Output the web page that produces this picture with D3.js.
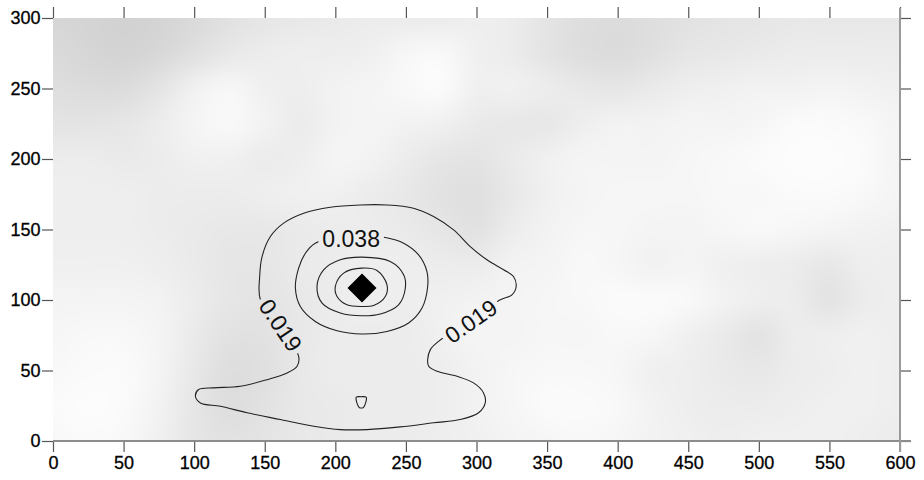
<!DOCTYPE html>
<html><head><meta charset="utf-8">
<script src="https://cdn.jsdelivr.net/npm/d3@7"></script>
<style>body{margin:0;background:#fff} svg{display:block}</style>
</head><body><svg id="c" width="924" height="480"></svg>
<script>
// ---- data ----
const xTickValues = [0, 50, 100, 150, 200, 250, 300, 350, 400, 450, 500, 550, 600];
const yTickValues = [0, 50, 100, 150, 200, 250, 300];

// background shading grid (gray level 0-255), columns x = 0..600 step 25, rows y = 300..0 step 25
const gridX = [0,25,50,75,100,125,150,175,200,225,250,275,300,325,350,375,400,425,450,475,500,525,550,575,600];
const gridY = [300,275,250,225,200,175,150,125,100,75,50,25,0];
const shade = [
  [214,212,210,212,218,225,230,232,234,236,236,236,238,236,228,222,220,222,226,228,230,232,232,232,232],
  [218,214,212,216,224,232,236,238,238,240,246,248,240,236,228,222,220,224,230,232,234,236,236,236,236],
  [222,220,220,228,240,246,240,238,242,244,248,250,240,240,236,232,230,234,238,240,242,242,244,242,240],
  [228,228,230,236,244,248,242,236,242,244,242,240,234,232,232,238,242,242,244,244,246,250,250,248,244],
  [236,236,234,236,240,240,236,238,244,242,236,230,228,234,240,244,244,244,246,248,250,252,252,250,244],
  [238,238,238,236,236,236,238,240,240,236,232,226,224,232,240,244,246,246,246,248,248,250,250,248,244],
  [238,238,238,236,234,232,232,234,236,236,234,230,226,236,242,246,246,244,244,246,248,246,244,242,240],
  [240,240,240,238,234,230,230,234,236,238,238,236,236,242,244,248,246,242,244,240,238,236,232,238,238],
  [244,244,244,242,236,230,228,232,236,238,238,240,242,244,246,248,250,250,248,242,238,236,228,236,238],
  [246,248,248,244,234,226,226,232,236,236,236,240,244,244,246,246,248,246,240,234,228,236,238,240,238],
  [248,250,250,244,232,222,224,232,236,236,236,238,242,246,248,248,246,240,238,234,232,236,238,240,238],
  [250,252,250,242,230,222,226,232,234,236,236,238,242,246,250,250,248,242,238,236,236,238,240,240,238],
  [248,250,248,240,230,226,228,232,234,236,236,238,240,244,246,248,246,242,240,238,240,240,240,238,236]
];

// contour polylines [x, y] in data units
const contour019 = [[146.9,100.2],[146.4,116.7],[148.1,130.8],[154.0,145.0],[163.4,154.5],[177.6,161.5],[196.5,165.8],[217.7,167.4],[236.6,167.4],[255.4,165.1],[269.6,159.2],[283.8,149.7],[295.6,137.9],[307.4,128.5],[319.2,121.4],[326.2,116.7],[328.1,109.6],[325.1,103.7],[316.8,100.2],[295.6,86.0],[273.1,70.7],[267.3,64.8],[265.4,57.7],[266.1,53.0],[272.0,49.4],[286.2,45.9],[297.9,41.2],[305.0,34.1],[306.2,27.0],[301.5,20.0],[288.5,15.2],[269.6,12.9],[246.0,10.0],[222.4,8.1],[203.5,8.1],[184.7,10.5],[161.1,15.2],[137.5,20.0],[118.6,24.6],[104.4,27.0],[100.9,31.7],[103.2,36.5],[113.8,37.7],[132.7,38.8],[151.6,43.5],[165.8,48.3],[172.9,53.0],[174.0,60.0],[160.7,81.3]];
const contour038 = [[235.4,144.3],[248.4,140.3],[259.0,132.0],[264.9,120.2],[265.3,108.5],[261.4,94.3],[251.9,83.7],[236.6,77.7],[218.9,75.9],[201.2,78.2],[185.8,84.8],[175.2,95.4],[171.7,108.5],[174.0,122.6],[178.8,133.2],[185.8,140.3],[210.6,146.2]];
const contour057 = [[218.9,130.4],[238.9,127.3],[248.4,117.9],[249.6,108.5],[244.8,96.6],[231.9,90.1],[218.9,88.8],[203.5,90.8],[190.6,97.8],[187.0,109.6],[191.7,121.4],[203.5,128.5]];
const contour076 = [[218.9,122.6],[229.5,120.9],[236.6,110.8],[235.4,102.5],[227.1,96.1],[218.9,95.4],[208.3,96.6],[201.2,102.5],[200.0,109.6],[205.9,119.1]];
const contourSmall = [[214.8,31.0],[218.3,31.4],[221.9,31.0],[220.0,23.9],[218.4,23.4],[216.8,23.9]];
const contours = [contour019, contour038, contour057, contour076, contourSmall];

const contourLabels = [
  {text: "0.038", x: 211.2, y: 143.2, angle: 0},
  {text: "0.019", x: 161.3, y: 82.1, angle: 56},
  {text: "0.019", x: 296.0, y: 85.0, angle: -35}
];
const sources = [{x: 218.9, y: 108.5}];

// ---- drawing ----
const svg = d3.select("#c");
const x = d3.scaleLinear().domain([0, 600]).range([53, 900]);
const y = d3.scaleLinear().domain([0, 300]).range([441, 18]);
const font = "'Liberation Sans', Arial, sans-serif";

// background field (bicubic rendering of the shade grid)
const x0 = 53, y0 = 18, W = 847, H = 423;
const canvas = document.createElement("canvas");
canvas.width = W; canvas.height = H;
const ctx = canvas.getContext("2d");
const img = ctx.createImageData(W, H);
const gx = d3.scaleLinear().domain([gridX[0], gridX[gridX.length-1]]).range([0, gridX.length-1]);
const gy = d3.scaleLinear().domain([gridY[0], gridY[gridY.length-1]]).range([0, gridY.length-1]);
const nC = gridX.length, nR = gridY.length;
const clamp = (v, a, b) => Math.max(a, Math.min(b, v));
function cubic(p0, p1, p2, p3, t) {
  return p1 + 0.5 * t * (p2 - p0 + t * (2*p0 - 5*p1 + 4*p2 - p3 + t * (3*(p1 - p2) + p3 - p0)));
}
function sample(cx, cy) {
  const ix = Math.floor(cx), iy = Math.floor(cy), tx = cx - ix, ty = cy - iy;
  const col = [];
  for (let m = -1; m <= 2; m++) {
    const r = shade[clamp(iy + m, 0, nR - 1)];
    col.push(cubic(r[clamp(ix-1,0,nC-1)], r[clamp(ix,0,nC-1)], r[clamp(ix+1,0,nC-1)], r[clamp(ix+2,0,nC-1)], tx));
  }
  return cubic(col[0], col[1], col[2], col[3], ty);
}
for (let j = 0; j < H; j++) {
  const cy = clamp(gy(y.invert(y0 + j + 0.5)), 0, nR - 1);
  for (let i = 0; i < W; i++) {
    const cx = clamp(gx(x.invert(x0 + i + 0.5)), 0, nC - 1);
    const v = clamp(Math.round(sample(cx, cy)), 0, 255);
    const k = (j * W + i) * 4;
    img.data[k] = v; img.data[k+1] = v; img.data[k+2] = v; img.data[k+3] = 255;
  }
}
ctx.putImageData(img, 0, 0);
svg.append("image").attr("x", x0).attr("y", y0).attr("width", W).attr("height", H)
  .attr("href", canvas.toDataURL());

// labels (measure first for mask)
const defs = svg.append("defs");
const labelG = svg.append("g").attr("class", "labels");
const labels = labelG.selectAll("text").data(contourLabels).join("text")
  .attr("transform", d => `translate(${x(d.x)},${y(d.y)}) rotate(${d.angle})`)
  .attr("text-anchor", "middle").attr("dy", "0.36em")
  .attr("font-family", font).attr("font-size", 23).attr("fill", "#111")
  .text(d => d.text);
const widths = labels.nodes().map(n => n.getComputedTextLength());

const mask = defs.append("mask").attr("id", "lblmask").attr("maskUnits", "userSpaceOnUse")
  .attr("x", 0).attr("y", 0).attr("width", 924).attr("height", 480);
mask.append("rect").attr("width", 924).attr("height", 480).attr("fill", "white");
mask.selectAll("rect.hole").data(contourLabels).join("rect").attr("class", "hole")
  .attr("transform", d => `translate(${x(d.x)},${y(d.y)}) rotate(${d.angle})`)
  .attr("x", (d, i) => -widths[i] / 2 - 4).attr("y", -11)
  .attr("width", (d, i) => widths[i] + 8).attr("height", 22).attr("fill", "black");

const line = d3.line().x(d => x(d[0])).y(d => y(d[1])).curve(d3.curveCatmullRomClosed.alpha(0.5));
svg.insert("g", ".labels").attr("mask", "url(#lblmask)")
  .selectAll("path").data(contours).join("path")
  .attr("d", line).attr("fill", "none").attr("stroke", "#222").attr("stroke-width", 1.1);

// source marker
svg.selectAll("path.src").data(sources).join("path").attr("class", "src")
  .attr("transform", d => `translate(${x(d.x)},${y(d.y)}) rotate(45)`)
  .attr("d", d3.symbol(d3.symbolSquare, 420)).attr("fill", "#000");

// axes
const tickColor = "#555";
function styleAxis(g, showText) {
  g.select(".domain").remove();
  g.selectAll(".tick line").attr("stroke", tickColor).attr("stroke-width", 1.2);
  g.selectAll(".tick text").attr("font-family", font).attr("font-size", 18).attr("fill", "#000")
    .attr("stroke", "#000").attr("stroke-width", 0.3);
  if (!showText) g.selectAll(".tick text").remove();
}
svg.append("g").attr("transform", "translate(0,441)")
  .call(d3.axisBottom(x).tickValues(xTickValues).tickSize(11).tickPadding(4.5).tickFormat(d3.format("d")))
  .call(g => styleAxis(g, true));
svg.append("g").attr("transform", "translate(0,18)")
  .call(d3.axisTop(x).tickValues(xTickValues).tickSize(11))
  .call(g => styleAxis(g, false));
svg.append("g").attr("transform", "translate(53,0)")
  .call(d3.axisLeft(y).tickValues(yTickValues).tickSize(11).tickPadding(1.5).tickFormat(d3.format("d")))
  .call(g => styleAxis(g, true));
svg.append("g").attr("transform", "translate(900,0)")
  .call(d3.axisRight(y).tickValues(yTickValues).tickSize(11))
  .call(g => styleAxis(g, false));

// frame lines (bottom and right)
svg.append("line").attr("x1", x(0)).attr("x2", x(600) + 11).attr("y1", y(0)).attr("y2", y(0))
  .attr("stroke", "#8c8c8c").attr("stroke-width", 2);
svg.append("line").attr("x1", x(600)).attr("x2", x(600)).attr("y1", y(300) - 10).attr("y2", y(0) + 11)
  .attr("stroke", "#9a9a9a").attr("stroke-width", 2);
</script></body></html>
